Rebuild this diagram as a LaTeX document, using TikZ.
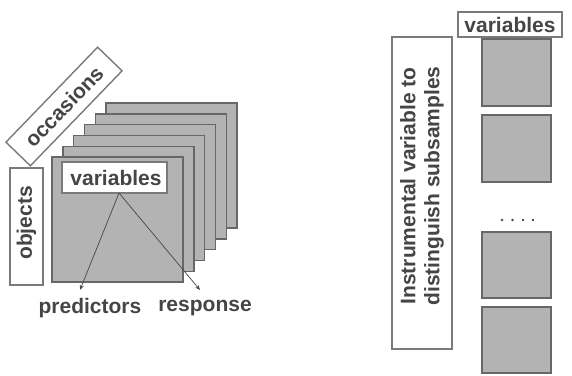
\documentclass[tikz,border=0pt]{standalone}
\usepackage{fontspec}
\setmainfont{Liberation Sans}
\usetikzlibrary{arrows.meta}
\definecolor{txt}{HTML}{454545}
\definecolor{boxline}{HTML}{7A7A7A}
\definecolor{sqfill}{HTML}{B3B3B3}
\definecolor{sqline}{HTML}{676767}
\tikzset{
  lbl/.style={font=\fontsize{21}{23}\selectfont\bfseries, text=txt, inner sep=0pt},
  wbox/.style={draw=boxline, line width=1.4pt, fill=white},
  sq/.style={draw=sqline, line width=1.4pt, fill=sqfill},
  arr/.style={draw=txt, line width=0.7pt, -{Stealth[length=5pt,width=4pt]}},
}
\begin{document}
\begin{tikzpicture}[x=1pt,y=-1pt]
\useasboundingbox (0,0) rectangle (572,375);
% stacked squares, back to front
\foreach \i in {5,4,3,2,1,0}{
  \path[sq] ({52+10.8*\i},{157-10.8*\i}) rectangle ++(131,125);
}
% front variables box
\draw[wbox] (62,162) rectangle (167,193);
\node[lbl] (var1) at (116,178) {variables};
% objects box
\draw[wbox] (10,168) rectangle (43,285);
\node[lbl, rotate=90] (obj) at (26.5,223) {objects};
% occasions box
\node[lbl, draw=boxline, line width=1.4pt, fill=white, rotate=46,
      minimum width=132pt, minimum height=34pt, inner sep=0pt] (occ) at (64,106.5) {occasions};
% arrows
\coordinate (vsrc) at (119,193);
\coordinate (pend) at (80,290);
\coordinate (rend) at (200,290);
\draw[arr] (vsrc) -- (pend);
\draw[arr] (vsrc) -- (rend);
\node[lbl] (pred) at (90,308) {predictors};
\node[lbl] (resp) at (205,308) {response};
% right part
\draw[wbox] (458,12) rectangle (562,37);
\node[lbl] (var2) at (510,25) {variables};
\path[sq] (482,39) rectangle (551,106);
\path[sq] (482,115) rectangle (551,182);
\path[sq] (482,232) rectangle (551,298);
\path[sq] (482,307) rectangle (551,373);
\foreach \x in {502,512.5,523,533}{
  \fill[txt] (\x,220) circle (1.3pt);
}
\draw[wbox] (392,37) rectangle (452,349);
\node[lbl, rotate=90, align=center, font=\fontsize{21}{24}\selectfont\bfseries] (instr) at (422,186)
  {Instrumental variable to\\distinguish subsamples};
\end{tikzpicture}
\end{document}
